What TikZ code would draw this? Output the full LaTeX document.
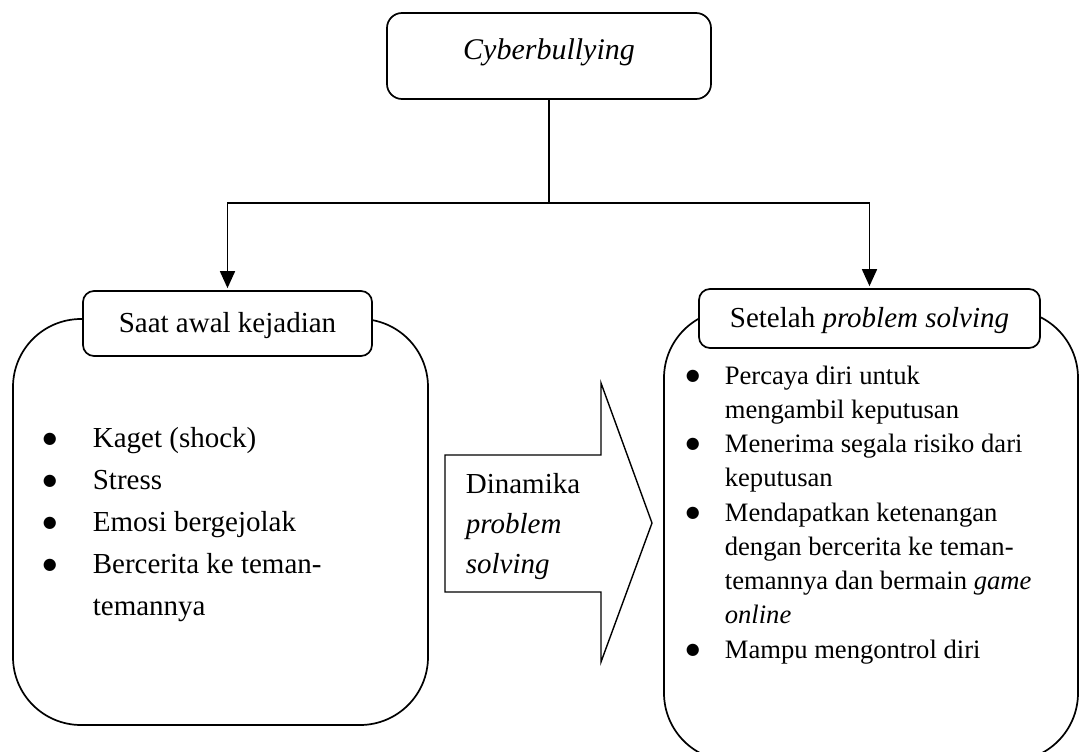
\documentclass[tikz,border=0pt]{standalone}
\usepackage{fontspec}
\setmainfont{Liberation Serif}
\newfontfamily\symfont{DejaVu Sans}
\usetikzlibrary{arrows.meta}

% list bullet hung into the left margin; #1 = gap between bullet box and text
\newcommand{\dotglyph}{{\symfont\fontsize{16}{16}\selectfont\raisebox{4pt}{●}}}
\newcommand{\listbul}[1]{\leavevmode\llap{\makebox[20pt][c]{\dotglyph}\hspace{#1}}}

\begin{document}
\begin{tikzpicture}[x=1pt,y=-1pt,line width=1.7pt,
  bigbox/.style={draw, rounded corners=68pt, inner sep=0pt},
  smallbox/.style={draw, fill=white, rounded corners=11pt, inner xsep=0pt, inner ysep=4pt,
    text height=22pt, text depth=5pt, font=\fontsize{29}{35}\selectfont},
  link/.style={-{Triangle[length=17pt,width=15pt]}, shorten >=2pt},
  listtext/.style={anchor=base west, inner sep=0pt}]

\useasboundingbox (0,0) rectangle (1080,752);

% outer rounded panels
\node[bigbox, minimum width=415pt, minimum height=406pt] (leftpanel) at (220.5,522) {};
\node[bigbox, minimum width=414pt, minimum height=451pt] (rightpanel) at (871,535.5) {};

% headings
\node[smallbox, rounded corners=15pt, minimum width=324pt, minimum height=86pt,
  text height=23pt, text depth=15pt, font=\fontsize{30}{36}\selectfont\itshape] (cyber) at (549,56) {Cyberbullying};
\node[smallbox, minimum width=289pt, minimum height=65pt] (saat) at (227.5,323.5) {Saat awal kejadian};
\node[smallbox, minimum width=341pt, minimum height=59pt] (setelah) at (869.5,318.5) {Setelah \textit{problem solving}};

% connectors
\coordinate (split) at (549,203);
\draw (cyber.south) -- (split);
\draw[link] (split) -| (saat.north);
\draw[link] (split) -| (setelah.north);

% block arrow between the panels
\draw[line width=1.4pt] (445,455) -- (601,455) -- (601,383) -- (652,523) -- (601,662)
  -- (601,592) -- (445,592) -- cycle;
\node[listtext] (dinamika) at (465,493) {\parbox[t]{140pt}{\fontsize{29}{40}\selectfont\raggedright
  Dinamika\\ \textit{problem}\\ \textit{solving}}};

% left list
\node[listtext] (leftlist) at (92,447) {\parbox[t]{320pt}{\fontsize{29}{42}\selectfont\raggedright
  \listbul{33pt}Kaget (shock)\\
  \listbul{33pt}Stress\\
  \listbul{33pt}Emosi bergejolak\\
  \listbul{33pt}Bercerita ke teman-\\
  temannya}};

% right list
\node[listtext] (rightlist) at (724,384) {\parbox[t]{345pt}{\fontsize{26.6}{34.25}\selectfont\raggedright
  \listbul{22pt}Percaya diri untuk\\
  mengambil keputusan\\
  \listbul{22pt}Menerima segala risiko dari\\
  keputusan\\
  \listbul{22pt}Mendapatkan ketenangan\\
  dengan bercerita ke teman-\\
  temannya dan bermain \textit{game}\\
  \textit{online}\\
  \listbul{22pt}Mampu mengontrol diri}};

\end{tikzpicture}
\end{document}
